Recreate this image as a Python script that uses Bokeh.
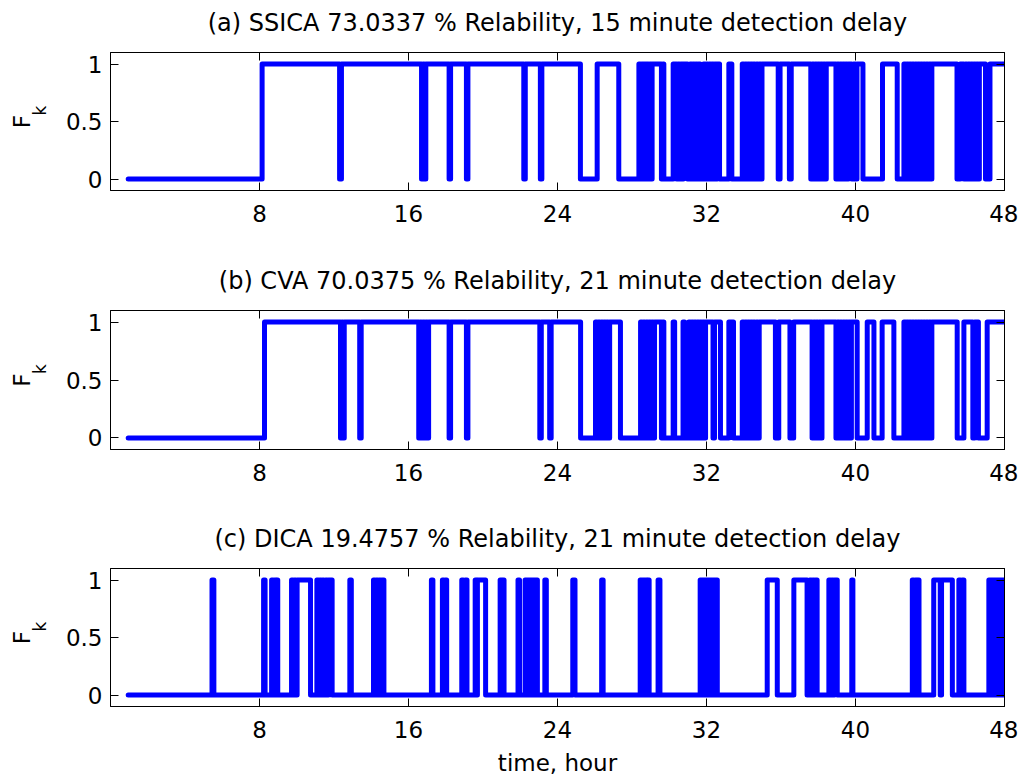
from bokeh.plotting import figure
from bokeh.models import Range1d, FixedTicker, LinearAxis
from bokeh.layouts import column
from bokeh.embed import file_html
from bokeh.resources import INLINE

# ---------------- data (hours) ----------------
t_start = 0.95
t_end = 48.0

titles = [
    "(a) SSICA 73.0337 % Relability, 15 minute detection delay",
    "(b) CVA 70.0375 % Relability, 21 minute detection delay",
    "(c) DICA 19.4757 % Relability, 21 minute detection delay",
]
y_label_main = "F"
y_label_sub = "\u00a0\u00a0\u00a0\u00a0k"
x_label = "time, hour"

x_ticks = [8, 16, 24, 32, 40, 48]
y_ticks = [0, 0.5, 1]

# intervals (start, end) during which the fault flag F_k equals 1
ssica_on = [
    (8.14, 12.30), (12.40, 16.70), (16.78, 16.85), (16.93, 18.18), (18.26, 19.11),
    (19.19, 22.19), (22.27, 23.08), (23.16, 25.23),
    (26.13, 27.29),
    (28.37, 28.45), (28.52, 28.60), (28.66, 28.74), (28.80, 28.88), (28.95, 29.02),
    (29.08, 29.58), (29.66, 29.71),
    (30.21, 30.40), (30.47, 30.55), (30.62, 30.70), (30.76, 30.98), (31.12, 31.20),
    (31.27, 31.35), (31.42, 31.50), (31.57, 31.66), (31.84, 31.92), (31.99, 32.07),
    (32.14, 32.22), (32.29, 32.37), (32.44, 32.52), (32.58, 32.70),
    (33.20, 33.36),
    (33.92, 34.00), (34.07, 34.15), (34.22, 34.30), (34.37, 34.45), (34.52, 34.60),
    (34.68, 34.76), (34.83, 34.91), (34.98, 35.85),
    (35.95, 36.45), (36.55, 37.60), (37.68, 37.76), (37.83, 37.91), (37.98, 38.06),
    (38.13, 38.21), (38.28, 38.36), (38.43, 38.95),
    (39.02, 39.10), (39.17, 39.25), (39.32, 39.40), (39.47, 39.55), (39.62, 39.80),
    (39.90, 40.00), (40.08, 40.40),
    (41.45, 42.24),
    (42.60, 42.68), (42.75, 42.83), (42.90, 42.98), (43.05, 43.13), (43.20, 43.28),
    (43.35, 43.43), (43.50, 43.58), (43.65, 43.73), (43.80, 43.88), (43.95, 44.03),
    (44.10, 45.45),
    (45.62, 45.82), (45.90, 45.98), (46.05, 46.13), (46.20, 46.28), (46.35, 46.43),
    (46.50, 46.58), (46.65, 46.98),
    (47.22, 48.00),
]

cva_on = [
    (8.27, 12.35), (12.42, 12.48), (12.55, 13.38), (13.46, 16.55), (16.62, 16.70),
    (16.77, 16.86), (16.93, 17.01), (17.08, 18.18), (18.26, 19.11), (19.19, 23.05),
    (23.13, 23.58), (23.66, 25.24),
    (26.04, 26.12), (26.19, 26.27), (26.34, 26.42), (26.49, 26.57), (26.64, 26.72),
    (26.80, 27.38),
    (28.46, 28.54), (28.61, 28.69), (28.76, 28.84), (28.91, 28.99), (29.06, 29.14),
    (29.21, 29.58), (29.65, 29.71),
    (30.21, 30.29),
    (30.74, 30.82),
    (31.05, 31.13), (31.20, 31.28), (31.35, 31.43), (31.50, 31.58), (31.65, 31.73),
    (31.80, 31.88), (31.95, 32.35), (32.43, 32.75),
    (33.20, 33.45),
    (33.92, 34.00), (34.07, 34.15), (34.22, 34.30), (34.37, 34.45), (34.52, 34.60),
    (34.68, 34.76), (34.83, 35.70), (35.88, 36.48), (36.68, 37.67), (37.75, 37.83),
    (37.90, 37.98), (38.05, 38.13), (38.20, 38.95), (39.03, 39.11), (39.18, 39.26),
    (39.33, 39.41), (39.48, 39.56), (39.63, 39.71), (39.78, 40.09),
    (40.63, 40.99), (41.43, 42.06),
    (42.60, 42.68), (42.75, 42.83), (42.90, 42.98), (43.05, 43.13), (43.20, 43.28),
    (43.35, 43.43), (43.50, 43.58), (43.65, 43.73), (43.80, 43.88), (43.95, 44.03),
    (44.10, 45.46), (45.82, 46.30), (46.40, 46.60),
    (47.07, 48.00),
]

dica_on = [
    (5.45, 5.55),
    (8.22, 8.30), (8.65, 8.73), (8.80, 8.88), (8.92, 8.98),
    (9.72, 9.80), (9.87, 9.95), (10.02, 10.74),
    (11.08, 11.16), (11.23, 11.31), (11.38, 11.46), (11.55, 11.63), (11.70, 11.90),
    (12.85, 12.93),
    (14.12, 14.20), (14.27, 14.35), (14.42, 14.50), (14.57, 14.68),
    (17.23, 17.31),
    (17.82, 17.90), (17.97, 18.05),
    (18.86, 18.94), (19.04, 19.14),
    (19.58, 19.66), (19.70, 20.14),
    (20.92, 21.00), (21.05, 21.13),
    (21.88, 21.96),
    (22.26, 22.34), (22.40, 22.48), (22.54, 22.62), (22.68, 22.76), (22.82, 22.92),
    (23.32, 23.40),
    (24.82, 24.94),
    (26.37, 26.45),
    (28.44, 28.52), (28.58, 28.66), (28.72, 28.80), (28.84, 28.92),
    (29.40, 29.50),
    (31.66, 31.74), (31.80, 31.88), (31.94, 32.02), (32.08, 32.16), (32.22, 32.30),
    (32.36, 32.44), (32.50, 32.58),
    (35.26, 35.80),
    (36.69, 37.40), (37.55, 37.63), (37.70, 37.78), (37.85, 37.94),
    (38.57, 38.65), (38.72, 38.80), (38.87, 39.02),
    (39.80, 39.86),
    (43.05, 43.13), (43.20, 43.28), (43.33, 43.41),
    (44.20, 44.55), (44.62, 45.20),
    (45.55, 45.63), (45.72, 45.82),
    (47.16, 47.24), (47.30, 47.38), (47.44, 47.52), (47.58, 47.66), (47.72, 47.80),
    (47.86, 47.97),
]

series = [ssica_on, cva_on, dica_on]

FONT = "DejaVu Sans"
BLUE = "#0000ff"


def step_xy(intervals):
    xs, ys = [t_start], [0]
    for s, e in intervals:
        xs += [s, s]
        ys += [0, 1]
        if e >= t_end:
            xs.append(t_end)
            ys.append(1)
            return xs, ys
        xs += [e, e]
        ys += [1, 0]
    xs.append(t_end)
    ys.append(0)
    return xs, ys


def style_axis(ax, labels=True):
    ax.axis_line_color = "black"
    ax.axis_line_width = 1
    ax.major_tick_line_color = "black"
    ax.major_tick_in = 8
    ax.major_tick_out = 0
    ax.minor_tick_line_color = None
    ax.major_label_text_font = FONT
    ax.major_label_text_font_size = "23px" if labels else "0px"
    ax.major_label_text_color = "black" if labels else None
    if not labels:
        ax.major_label_standoff = 0


def style_label(ax, size, standoff):
    ax.axis_label_text_font = FONT
    ax.axis_label_text_font_size = size
    ax.axis_label_text_font_style = "normal"
    ax.axis_label_text_color = "black"
    ax.axis_label_standoff = standoff


frame_h = [138, 139, 138]
border_top = [52, 54, 54]
border_bottom = [66, 65, 60]

figs = []
for i, (title, on) in enumerate(zip(titles, series)):
    last = i == 2
    p = figure(
        frame_width=894,
        frame_height=frame_h[i],
        min_border_left=110,
        min_border_right=14,
        min_border_top=border_top[i],
        min_border_bottom=border_bottom[i],
        x_range=Range1d(0, 48),
        y_range=Range1d(-0.1, 1.1),
        output_backend="svg",
        toolbar_location=None,
        background_fill_color="white",
        border_fill_color="white",
    )
    p.outline_line_color = "black"
    p.grid.visible = False

    bottom = p.xaxis[0]
    left = p.yaxis[0]
    bottom.ticker = FixedTicker(ticks=x_ticks)
    left.ticker = FixedTicker(ticks=y_ticks)
    left.major_label_overrides = {0: "0", 0.5: "0.5", 1: "1"}
    style_axis(bottom)
    style_axis(left)
    bottom.major_label_standoff = 14
    left.major_label_standoff = 8
    # subscript "k" sits next to the tick labels, "F" further out
    left.axis_label = y_label_sub
    style_label(left, "17px", 13)

    outer = LinearAxis(ticker=FixedTicker(ticks=[]))
    style_axis(outer, labels=False)
    outer.axis_line_color = None
    outer.major_tick_line_color = None
    outer.axis_label = y_label_main
    style_label(outer, "23px", -8)
    p.add_layout(outer, "left")

    top = LinearAxis(ticker=FixedTicker(ticks=x_ticks))
    style_axis(top, labels=False)
    top.axis_label = title
    style_label(top, "24px", 16)
    p.add_layout(top, "above")

    right = LinearAxis(ticker=FixedTicker(ticks=y_ticks))
    style_axis(right, labels=False)
    p.add_layout(right, "right")

    if last:
        bottom.axis_label = x_label
        style_label(bottom, "23px", 9)

    xs, ys = step_xy(on)
    p.line(xs, ys, line_width=5, line_color=BLUE, line_join="round", line_cap="round")
    figs.append(p)

layout = column(*figs, spacing=0)
open("out.html", "w").write(file_html(layout, INLINE))
